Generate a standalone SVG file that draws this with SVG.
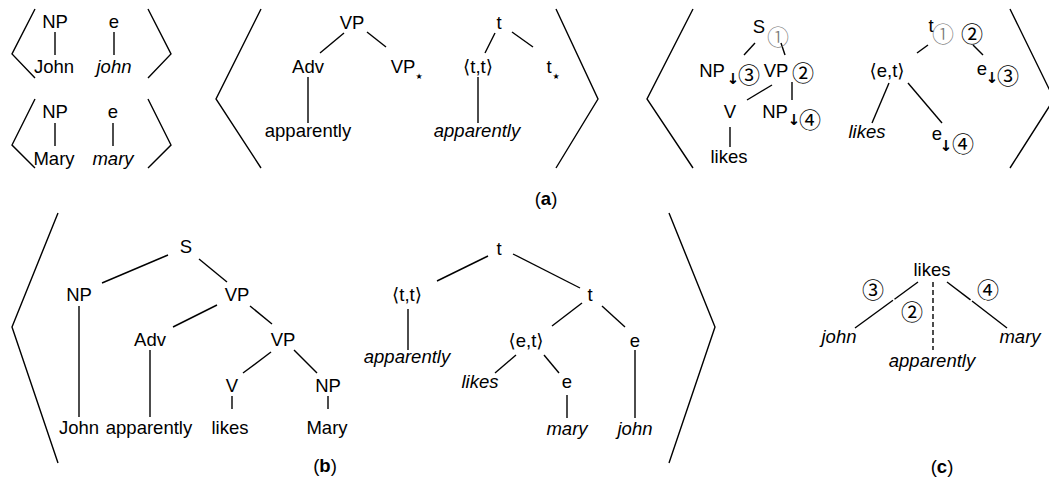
<svg xmlns="http://www.w3.org/2000/svg" width="1049" height="486" viewBox="0 0 1049 486">
<style>
text{font-family:"Liberation Sans","DejaVu Sans",sans-serif;font-size:18.5px;fill:#000;text-anchor:middle}
.i{font-style:italic}
.c{font-family:"Noto Sans CJK JP","DejaVu Sans",sans-serif;font-size:22px;font-weight:400}
.g{fill:#777;font-weight:300}
.ar{font-family:"DejaVu Sans",sans-serif;font-size:15px;font-weight:bold}
.st{font-family:"DejaVu Sans",sans-serif;font-size:8px}
line,path{stroke:#000;stroke-width:1.4;fill:none}
.d{stroke-dasharray:5 3}
</style>
<rect width="1049" height="486" fill="#fff"/>
<g id="brackets">
<path d="M35,9 L12,54 L35,78"/><path d="M148,9 L171,54 L148,78"/>
<path d="M35,99 L12,145 L35,168"/><path d="M148,99 L171,145 L148,168"/>
<path d="M261,9 L216,99 L261,168"/><path d="M556,9 L598,99 L556,168"/>
<path d="M693,9 L647,99 L693,168"/><path d="M1010,9 L1054,99 L1010,168"/>
<path d="M58,213 L12,327 L58,463"/><path d="M669,213 L715,327 L669,463"/>
</g>
<g id="connectors">
<line x1="55" y1="32" x2="55" y2="55"/><line x1="114" y1="32" x2="114" y2="55"/>
<line x1="55" y1="123" x2="55" y2="146"/><line x1="113" y1="123" x2="113" y2="146"/>
<line x1="344" y1="33" x2="320" y2="53"/><line x1="367" y1="32" x2="386" y2="47"/>
<line x1="308" y1="77" x2="308" y2="123"/>
<line x1="495" y1="33" x2="485" y2="53"/><line x1="512" y1="32" x2="533" y2="47"/>
<line x1="478" y1="77" x2="478" y2="123"/>
<line x1="755" y1="43" x2="744" y2="55"/><line x1="781" y1="43" x2="785" y2="55"/>
<line x1="772" y1="85" x2="747" y2="100"/><line x1="792" y1="82" x2="792" y2="100"/>
<line x1="730" y1="127" x2="730" y2="147"/>
<line x1="928" y1="45" x2="917" y2="53"/><line x1="973" y1="45" x2="983" y2="55"/>
<line x1="889" y1="83" x2="872" y2="123"/><line x1="908" y1="83" x2="942" y2="123"/>
<line x1="168" y1="255" x2="102" y2="283"/><line x1="199" y1="259" x2="227" y2="282"/>
<line x1="79" y1="306" x2="79" y2="417"/>
<line x1="217" y1="305" x2="173" y2="327"/><line x1="250" y1="306" x2="272" y2="324"/>
<line x1="150" y1="350" x2="150" y2="417"/>
<line x1="271" y1="352" x2="243" y2="373"/><line x1="294" y1="350" x2="317" y2="373"/>
<line x1="232" y1="396" x2="232" y2="409"/><line x1="328" y1="396" x2="328" y2="409"/>
<line x1="488" y1="256" x2="437" y2="281"/><line x1="513" y1="254" x2="580" y2="288"/>
<line x1="408" y1="309" x2="408" y2="350"/>
<line x1="582" y1="303" x2="552" y2="326"/><line x1="602" y1="306" x2="625" y2="327"/>
<line x1="516" y1="355" x2="495" y2="373"/><line x1="544" y1="355" x2="559" y2="373"/>
<line x1="567" y1="395" x2="567" y2="418"/><line x1="635" y1="350" x2="635" y2="418"/>
<line x1="918" y1="282" x2="894.5" y2="299.2"/><line x1="893" y1="300.3" x2="855" y2="328"/>
<line x1="947" y1="282" x2="970.5" y2="299.9"/><line x1="972" y1="301" x2="1007" y2="328"/>
<line class="d" x1="933" y1="282" x2="933" y2="350"/>
</g>
<g id="a1-NP"><text x="55" y="28">NP</text></g>
<g id="a1-e"><text x="114" y="28">e</text></g>
<g id="a1-John"><text x="54" y="73">John</text></g>
<g id="a1-john"><text class="i" x="114" y="73">john</text></g>
<g id="a2-NP"><text x="55" y="118">NP</text></g>
<g id="a2-e"><text x="113" y="118">e</text></g>
<g id="a2-Mary"><text x="54" y="165">Mary</text></g>
<g id="a2-mary"><text class="i" x="113" y="165">mary</text></g>
<g id="a3-VP"><text x="352" y="29">VP</text></g>
<g id="a3-Adv"><text x="308" y="73">Adv</text></g>
<g id="a3-VPstar"><text x="403" y="73">VP</text><text class="st" x="419" y="79">★</text></g>
<g id="a3-apparently"><text x="308" y="137">apparently</text></g>
<g id="a4-t"><text x="499" y="29">t</text></g>
<g id="a4-tt"><text x="478" y="73">⟨t,t⟩</text></g>
<g id="a4-tstar"><text x="549" y="73">t</text><text class="st" x="556" y="79">★</text></g>
<g id="a4-apparently"><text class="i" x="477" y="137">apparently</text></g>
<g id="a5-S"><text x="759" y="33">S</text><text class="c g" x="778" y="45">①</text></g>
<g id="a5-NP"><text x="712" y="77">NP</text><text class="ar" x="733" y="84">↓</text><text class="c" x="749" y="83">③</text></g>
<g id="a5-VP"><text x="776" y="77">VP</text><text class="c" x="803" y="81">②</text></g>
<g id="a5-V"><text x="730" y="118">V</text></g>
<g id="a5-NP2"><text x="775" y="118">NP</text><text class="ar" x="794" y="125">↓</text><text class="c" x="810" y="128">④</text></g>
<g id="a5-likes"><text x="729" y="163">likes</text></g>
<g id="a6-t"><text x="931" y="32">t</text><text class="c g" x="943" y="42">①</text><text class="c" x="972" y="42">②</text></g>
<g id="a6-et"><text x="887" y="77">⟨e,t⟩</text></g>
<g id="a6-e3"><text x="982" y="75">e</text><text class="ar" x="992" y="83">↓</text><text class="c" x="1008" y="84">③</text></g>
<g id="a6-e4"><text x="937" y="140">e</text><text class="ar" x="946" y="151">↓</text><text class="c" x="963" y="152">④</text></g>
<g id="a6-likes"><text class="i" x="867" y="138">likes</text></g>
<g id="label-a"><text x="546" y="205">(<tspan font-weight="bold">a</tspan>)</text></g>
<g id="b1-S"><text x="186" y="253">S</text></g>
<g id="b1-NP"><text x="79" y="301">NP</text></g>
<g id="b1-VP"><text x="237" y="301">VP</text></g>
<g id="b1-Adv"><text x="150" y="346">Adv</text></g>
<g id="b1-VP2"><text x="283" y="346">VP</text></g>
<g id="b1-V"><text x="232" y="392">V</text></g>
<g id="b1-NP2"><text x="328" y="392">NP</text></g>
<g id="b1-John"><text x="79" y="434">John</text></g>
<g id="b1-apparently"><text x="149" y="434">apparently</text></g>
<g id="b1-likes"><text x="230" y="434">likes</text></g>
<g id="b1-Mary"><text x="327" y="434">Mary</text></g>
<g id="b2-t"><text x="499" y="255">t</text></g>
<g id="b2-tt"><text x="407" y="301">⟨t,t⟩</text></g>
<g id="b2-t2"><text x="590" y="301">t</text></g>
<g id="b2-apparently"><text class="i" x="407" y="363">apparently</text></g>
<g id="b2-et"><text x="526" y="347">⟨e,t⟩</text></g>
<g id="b2-e"><text x="635" y="347">e</text></g>
<g id="b2-likes"><text class="i" x="480" y="388">likes</text></g>
<g id="b2-e2"><text x="567" y="388">e</text></g>
<g id="b2-mary"><text class="i" x="567" y="435">mary</text></g>
<g id="b2-john"><text class="i" x="635" y="435">john</text></g>
<g id="label-b"><text x="325" y="472">(<tspan font-weight="bold">b</tspan>)</text></g>
<g id="c-likes"><text x="932" y="276">likes</text></g>
<g id="c-john"><text class="i" x="839" y="343">john</text></g>
<g id="c-mary"><text class="i" x="1020" y="343">mary</text></g>
<g id="c-apparently"><text class="i" x="932" y="367">apparently</text></g>
<g id="c-n3"><text class="c" x="873" y="298">③</text></g>
<g id="c-n2"><text class="c" x="912" y="320">②</text></g>
<g id="c-n4"><text class="c" x="988" y="298">④</text></g>
<g id="label-c"><text x="942" y="473">(<tspan font-weight="bold">c</tspan>)</text></g>
</svg>
